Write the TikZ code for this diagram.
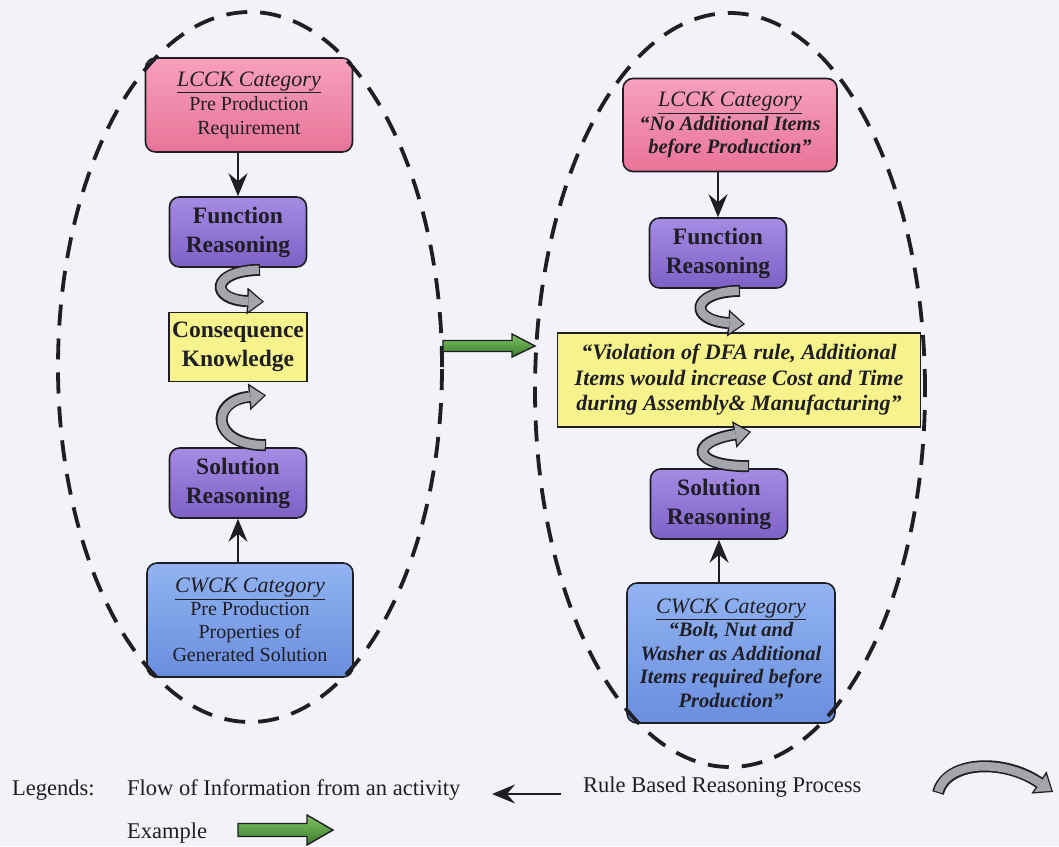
\documentclass[tikz,border=0pt]{standalone}
\usepackage{fontspec}
\setmainfont{Liberation Serif}
\usetikzlibrary{arrows.meta,calc,shapes.geometric}

\definecolor{bgc}{RGB}{241,243,248}
\definecolor{ink}{RGB}{30,30,36}
\definecolor{pinkT}{RGB}{247,160,188}
\definecolor{pinkB}{RGB}{232,116,152}
\definecolor{purT}{RGB}{165,140,228}
\definecolor{purB}{RGB}{126,96,198}
\definecolor{yel}{RGB}{246,242,140}
\definecolor{bluT}{RGB}{146,180,242}
\definecolor{bluB}{RGB}{106,142,222}
\definecolor{grnT}{RGB}{128,196,100}
\definecolor{grnB}{RGB}{58,122,44}
\definecolor{ribc}{RGB}{165,166,172}

\tikzset{
  box/.style={draw=ink, line width=1.6pt, rounded corners=10pt, align=center,
    inner sep=0pt, text=ink},
  pinkbox/.style={box, top color=pinkT, bottom color=pinkB},
  purbox/.style={box, top color=purT, bottom color=purB, minimum width=137pt,
    minimum height=70pt, font=\fontsize{23.5}{29}\selectfont\bfseries},
  yelbox/.style={box, rounded corners=0pt, fill=yel},
  blubox/.style={box, top color=bluT, bottom color=bluB},
  flow/.style={draw=ink, line width=1.5pt,
    -{Stealth[length=23pt,width=19pt,inset=8pt]}},
  ribedge/.style={line width=12pt, draw=ink,
    -{Triangle[length=17pt,width=27pt,line width=0pt]}},
  ribface/.style={line width=8.5pt, draw=ribc, shorten >=2pt, shorten <=1.2pt,
    -{Triangle[length=13.5pt,width=21pt,line width=0pt]}},
  zone/.style={ellipse, draw=ink, line width=3.8pt, dash pattern=on 21pt off 13pt,
    inner sep=0pt},
  blockarrow/.style={draw=ink, line width=1.4pt, top color=grnT, bottom color=grnB,
    line join=miter},
  legend/.style={font=\fontsize{22.5}{27}\selectfont, text=ink, anchor=base west,
    inner sep=0pt},
}

% underlined italic heading inside the category boxes
\newcommand{\cathead}[1]{{\fontsize{22}{24}\selectfont\normalfont\itshape\underline{#1}}}
% curved "rule based reasoning" ribbon arrow: start, control 1, control 2, end
\newcommand{\ribbon}[4]{%
  \draw[ribedge] #1 .. controls #2 and #3 .. #4;
  \draw[ribface] #1 .. controls #2 and #3 .. #4;}

\begin{document}
\begin{tikzpicture}[x=1pt,y=-1pt]
\useasboundingbox (0,0) rectangle (1059,846);
\fill[bgc] (0,0) rectangle (1059,846);

% ---------- generic process (left) ----------
\node[pinkbox, minimum width=207pt, minimum height=94pt,
  font=\fontsize{20}{24}\selectfont] (lcckL) at (249,105)
  {\cathead{LCCK Category}\\Pre Production\\Requirement};
\node[purbox] (funL) at (238,232) {Function\\Reasoning};
\node[yelbox, minimum width=138pt, minimum height=69pt,
  font=\fontsize{23.5}{29}\selectfont\bfseries] (conL) at (238,347)
  {Consequence\\Knowledge};
\node[purbox] (solL) at (238,483) {Solution\\Reasoning};
\node[blubox, minimum width=206pt, minimum height=114pt,
  font=\fontsize{20}{23}\selectfont] (cwckL) at (250,620)
  {\cathead{CWCK Category}\\Pre Production\\Properties of\\Generated Solution};

\draw[flow] (lcckL.south -| funL.north) -- (funL.north);
\draw[flow] (cwckL.north -| solL.south) -- (solL.south);

\ribbon{($(funL.south)+(22,2)$)}{($(funL.south)+(-28,3)$)}
       {($(conL.north)+(-28,-12)$)}{($(conL.north)+(26,-10)$)}
\ribbon{($(solL.north)+(28,-2)$)}{($(solL.north)+(-28,-2)$)}
       {($(conL.south)+(-28,18)$)}{($(conL.south)+(28,13)$)}

% ---------- worked example (right) ----------
\node[pinkbox, minimum width=214pt, minimum height=93pt,
  font=\fontsize{20.5}{23.5}\selectfont\bfseries\itshape] (lcckR) at (730,125)
  {\cathead{LCCK Category}\\“No Additional Items\\before Production”};
\node[purbox] (funR) at (718,253) {Function\\Reasoning};
\node[yelbox, minimum width=363pt, minimum height=94pt,
  font=\fontsize{22}{25.5}\selectfont\bfseries\itshape] (conR) at (739,380)
  {“Violation of DFA rule, Additional\\Items would increase Cost and Time\\during Assembly\& Manufacturing”};
\node[purbox] (solR) at (719,504) {Solution\\Reasoning};
\node[blubox, minimum width=208pt, minimum height=140pt,
  font=\fontsize{20.5}{23.5}\selectfont\bfseries\itshape] (cwckR) at (731,653)
  {\cathead{CWCK Category}\\“Bolt, Nut and\\Washer as Additional\\Items required before\\Production”};

\draw[flow] (lcckR.south -| funR.north) -- (funR.north);
\draw[flow] (cwckR.north -| solR.south) -- (solR.south);

\ribbon{($(funR.south)+(22,2)$)}{($(funR.south)+(-28,3)$)}
       {($(conR.north)+(-50,-12)$)}{($(conR.north)+(6,-8)$)}
\ribbon{($(solR.north)+(30,-2)$)}{($(solR.north)+(-28,-2)$)}
       {($(conR.south)+(-50,14)$)}{($(conR.south)+(12,4)$)}

% ---------- dashed groupings ----------
\node[zone, minimum width=384pt, minimum height=710pt] (zoneL) at (250,367) {};
\node[zone, minimum width=390pt, minimum height=754pt] (zoneR) at (730,390) {};

% example arrow from the generic process to the worked example
\coordinate (ga) at (443,346);
\coordinate (gb) at (535,346);
\draw[blockarrow] ($(ga)+(0,-5.5)$) -- ($(gb)+(-23,-5.5)$) -- ($(gb)+(-23,-12)$)
  -- (gb) -- ($(gb)+(-23,11)$) -- ($(gb)+(-23,5.5)$) -- ($(ga)+(0,5.5)$) -- cycle;

% ---------- legend ----------
\node[legend] (lgHead) at (12,795) {Legends:};
\node[legend] (lgFlow) at (127,795) {Flow of Information from an activity};
\node[legend] (lgRule) at (583,792) {Rule Based Reasoning Process};
\node[legend] (lgEx) at (127,838) {Example};

\coordinate (fa) at (561,794);
\coordinate (fb) at (492,794);
\draw[flow] (fa) -- (fb);

\coordinate (ha) at (938,793);
\coordinate (hb) at (1053,792);
\ribbon{(ha)}{($(ha)+(8,-32)$)}{($(hb)+(-50,-34)$)}{(hb)}

\coordinate (ea) at (238,830);
\coordinate (eb) at (333,830);
\draw[blockarrow] ($(ea)+(0,-6.5)$) -- ($(eb)+(-26,-6.5)$) -- ($(eb)+(-26,-15)$)
  -- (eb) -- ($(eb)+(-26,15)$) -- ($(eb)+(-26,6.5)$) -- ($(ea)+(0,6.5)$) -- cycle;
\end{tikzpicture}
\end{document}
